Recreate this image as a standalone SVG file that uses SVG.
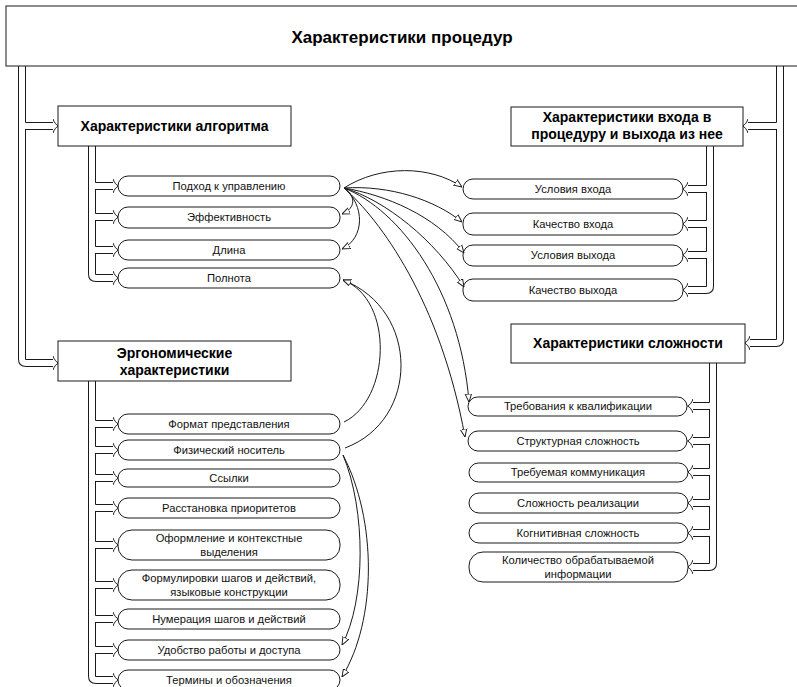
<svg xmlns="http://www.w3.org/2000/svg" width="797" height="687" viewBox="0 0 797 687">
<defs>
<style>
.bx{fill:#fff;stroke:#1a1a1a;stroke-width:1}
.pl{fill:#fff;stroke:#1a1a1a;stroke-width:1}
.h{font-family:"Liberation Sans",Arial,sans-serif;font-weight:bold;font-size:14px;fill:#000;text-anchor:middle}
.t{font-family:"Liberation Sans",Arial,sans-serif;font-size:11.2px;fill:#111;text-anchor:middle}
.po{fill:none;stroke:#1a1a1a;stroke-width:8;stroke-linejoin:round}
.pi{fill:none;stroke:#fff;stroke-width:6;stroke-linejoin:round}
.cv{fill:none;stroke:#1a1a1a;stroke-width:1;marker-end:url(#tri)}
</style>
<marker id="tri" markerUnits="userSpaceOnUse" markerWidth="8" markerHeight="8" viewBox="0 0 10 10" refX="10" refY="5" orient="auto">
<path d="M0,1 L10,5 L0,9 Z" fill="#fff" stroke="#1a1a1a" stroke-width="1.2"/>
</marker>
<marker id="ph" markerUnits="userSpaceOnUse" markerWidth="6" markerHeight="16" viewBox="0 -8 6 16" refX="0" refY="0" orient="auto">
<path d="M0,-7 C1,-4 3,-1 5.5,0 C3,1 1,4 0,7" fill="none" stroke="#1a1a1a" stroke-width="1"/>
</marker>
</defs>
<rect width="797" height="687" fill="#fff"/>
<g id="connectors">
<g id="pipes-outer" class="po" marker-end="url(#ph)">
<path d="M22,66 V122 Q22,126 26,126 H53"/>
<path d="M22,66 V359 Q22,363 26,363 H53"/>
<path d="M92,146 V182 Q92,186 96,186 H113"/>
<path d="M92,146 V213 Q92,217 96,217 H113"/>
<path d="M92,146 V246 Q92,250 96,250 H113"/>
<path d="M92,146 V274 Q92,278 96,278 H113"/>
<path d="M92,381 V420 Q92,424 96,424 H113"/>
<path d="M92,381 V446 Q92,450 96,450 H113"/>
<path d="M92,381 V474 Q92,478 96,478 H113"/>
<path d="M92,381 V504 Q92,508 96,508 H113"/>
<path d="M92,381 V541 Q92,545 96,545 H113"/>
<path d="M92,381 V581 Q92,585 96,585 H113"/>
<path d="M92,381 V615 Q92,619 96,619 H113"/>
<path d="M92,381 V646 Q92,650 96,650 H113"/>
<path d="M92,381 V676 Q92,680 96,680 H113"/>
<path d="M780,66 V122 Q780,126 776,126 H748"/>
<path d="M780,66 V339 Q780,343 776,343 H750"/>
<path d="M710,146 V185 Q710,189 706,189 H688"/>
<path d="M710,146 V220 Q710,224 706,224 H688"/>
<path d="M710,146 V251 Q710,255 706,255 H688"/>
<path d="M710,146 V286 Q710,290 706,290 H688"/>
<path d="M713,363 V402 Q713,406 709,406 H693"/>
<path d="M713,363 V437 Q713,441 709,441 H693"/>
<path d="M713,363 V468 Q713,472 709,472 H693"/>
<path d="M713,363 V499 Q713,503 709,503 H693"/>
<path d="M713,363 V529 Q713,533 709,533 H693"/>
<path d="M713,363 V563 Q713,567 709,567 H693"/>
</g>
<g id="pipes-inner" class="pi">
<path d="M22,66 V122 Q22,126 26,126 H53"/>
<path d="M22,66 V359 Q22,363 26,363 H53"/>
<path d="M92,146 V182 Q92,186 96,186 H113"/>
<path d="M92,146 V213 Q92,217 96,217 H113"/>
<path d="M92,146 V246 Q92,250 96,250 H113"/>
<path d="M92,146 V274 Q92,278 96,278 H113"/>
<path d="M92,381 V420 Q92,424 96,424 H113"/>
<path d="M92,381 V446 Q92,450 96,450 H113"/>
<path d="M92,381 V474 Q92,478 96,478 H113"/>
<path d="M92,381 V504 Q92,508 96,508 H113"/>
<path d="M92,381 V541 Q92,545 96,545 H113"/>
<path d="M92,381 V581 Q92,585 96,585 H113"/>
<path d="M92,381 V615 Q92,619 96,619 H113"/>
<path d="M92,381 V646 Q92,650 96,650 H113"/>
<path d="M92,381 V676 Q92,680 96,680 H113"/>
<path d="M780,66 V122 Q780,126 776,126 H748"/>
<path d="M780,66 V339 Q780,343 776,343 H750"/>
<path d="M710,146 V185 Q710,189 706,189 H688"/>
<path d="M710,146 V220 Q710,224 706,224 H688"/>
<path d="M710,146 V251 Q710,255 706,255 H688"/>
<path d="M710,146 V286 Q710,290 706,290 H688"/>
<path d="M713,363 V402 Q713,406 709,406 H693"/>
<path d="M713,363 V437 Q713,441 709,441 H693"/>
<path d="M713,363 V468 Q713,472 709,472 H693"/>
<path d="M713,363 V499 Q713,503 709,503 H693"/>
<path d="M713,363 V529 Q713,533 709,533 H693"/>
<path d="M713,363 V563 Q713,567 709,567 H693"/>
</g>
</g>
<g id="nodes">
<g id="n-root"><rect class="bx" x="6" y="6" width="800" height="60"/><text class="h" style="font-size:17px" x="402" y="43">Характеристики процедур</text></g>
<g id="n-algo"><rect class="bx" x="58" y="106" width="233" height="40"/><text class="h" x="174.5" y="131">Характеристики алгоритма</text></g>
<g id="n-io"><rect class="bx" x="511" y="107" width="232" height="39"/><text class="h" x="627" y="122">Характеристики входа в</text><text class="h" x="627" y="139">процедуру и выхода из нее</text></g>
<g id="n-ergo"><rect class="bx" x="58" y="341" width="233" height="40"/><text class="h" x="174.5" y="358">Эргономические</text><text class="h" x="174.5" y="375">характеристики</text></g>
<g id="n-cx"><rect class="bx" x="511" y="324" width="234" height="39"/><text class="h" x="628" y="348">Характеристики сложности</text></g>

<g id="a1"><rect class="pl" x="118" y="176" width="222" height="20" rx="10"/><text class="t" x="229" y="190">Подход к управлению</text></g>
<g id="a2"><rect class="pl" x="118" y="207" width="222" height="21" rx="10"/><text class="t" x="229" y="221">Эффективность</text></g>
<g id="a3"><rect class="pl" x="118" y="240" width="222" height="20" rx="10"/><text class="t" x="229" y="254">Длина</text></g>
<g id="a4"><rect class="pl" x="118" y="268" width="222" height="20" rx="10"/><text class="t" x="229" y="282">Полнота</text></g>

<g id="i1"><rect class="pl" x="463" y="179" width="220" height="20" rx="10"/><text class="t" x="573" y="193">Условия входа</text></g>
<g id="i2"><rect class="pl" x="463" y="213" width="220" height="22" rx="10"/><text class="t" x="573" y="228">Качество входа</text></g>
<g id="i3"><rect class="pl" x="463" y="245" width="220" height="21" rx="10"/><text class="t" x="573" y="259">Условия выхода</text></g>
<g id="i4"><rect class="pl" x="463" y="279" width="220" height="22" rx="10"/><text class="t" x="573" y="294">Качество выхода</text></g>

<g id="e1"><rect class="pl" x="118" y="414" width="222" height="20" rx="10"/><text class="t" x="229" y="428">Формат представления</text></g>
<g id="e2"><rect class="pl" x="118" y="440" width="222" height="20" rx="10"/><text class="t" x="229" y="454">Физический носитель</text></g>
<g id="e3"><rect class="pl" x="118" y="469" width="222" height="18" rx="9"/><text class="t" x="229" y="482">Ссылки</text></g>
<g id="e4"><rect class="pl" x="118" y="498" width="222" height="20" rx="10"/><text class="t" x="229" y="512">Расстановка приоритетов</text></g>
<g id="e5"><rect class="pl" x="118" y="530" width="222" height="30" rx="14"/><text class="t" x="229" y="542">Оформление и контекстные</text><text class="t" x="229" y="556">выделения</text></g>
<g id="e6"><rect class="pl" x="118" y="570" width="222" height="30" rx="14"/><text class="t" x="229" y="582">Формулировки шагов и действий,</text><text class="t" x="229" y="596">языковые конструкции</text></g>
<g id="e7"><rect class="pl" x="118" y="609" width="222" height="20" rx="10"/><text class="t" x="229" y="623">Нумерация шагов и действий</text></g>
<g id="e8"><rect class="pl" x="118" y="640" width="222" height="20" rx="10"/><text class="t" x="229" y="654">Удобство работы и доступа</text></g>
<g id="e9"><rect class="pl" x="118" y="670" width="222" height="20" rx="10"/><text class="t" x="229" y="684">Термины и обозначения</text></g>

<g id="c1"><rect class="pl" x="468" y="397" width="219" height="19" rx="9.5"/><text class="t" x="578" y="410">Требования к квалификации</text></g>
<g id="c2"><rect class="pl" x="468" y="431" width="219" height="20" rx="10"/><text class="t" x="578" y="445">Структурная сложность</text></g>
<g id="c3"><rect class="pl" x="469" y="463" width="219" height="19" rx="9.5"/><text class="t" x="578" y="476">Требуемая коммуникация</text></g>
<g id="c4"><rect class="pl" x="469" y="493" width="219" height="20" rx="10"/><text class="t" x="578" y="507">Сложность реализации</text></g>
<g id="c5"><rect class="pl" x="469" y="523" width="219" height="20" rx="10"/><text class="t" x="578" y="537">Когнитивная сложность</text></g>
<g id="c6"><rect class="pl" x="469" y="552" width="219" height="30" rx="14"/><text class="t" x="578" y="564">Количество обрабатываемой</text><text class="t" x="578" y="578">информации</text></g>
</g>
<g id="relations">
<path class="cv" d="M344,188 C356,196 356,208 342,214"/>
<path class="cv" d="M344,188 C365,205 365,238 342,249"/>
<path class="cv" d="M344,188 C380,165 430,165 462,187"/>
<path class="cv" d="M344,188 C390,185 435,200 462,222"/>
<path class="cv" d="M344,188 C385,195 435,215 464,253"/>
<path class="cv" d="M344,188 C385,200 435,240 464,287"/>
<path class="cv" d="M344,188 C400,210 460,290 469,402"/>
<path class="cv" d="M344,188 C380,220 440,300 465,437"/>
<path class="cv" d="M344,422 C390,400 395,300 343,280"/>
<path class="cv" d="M345,448 C420,420 420,310 343,280"/>
<path class="cv" d="M343,455 C366,510 366,600 342,645"/>
<path class="cv" d="M343,455 C377,520 377,620 342,677"/>
</g>
</svg>
